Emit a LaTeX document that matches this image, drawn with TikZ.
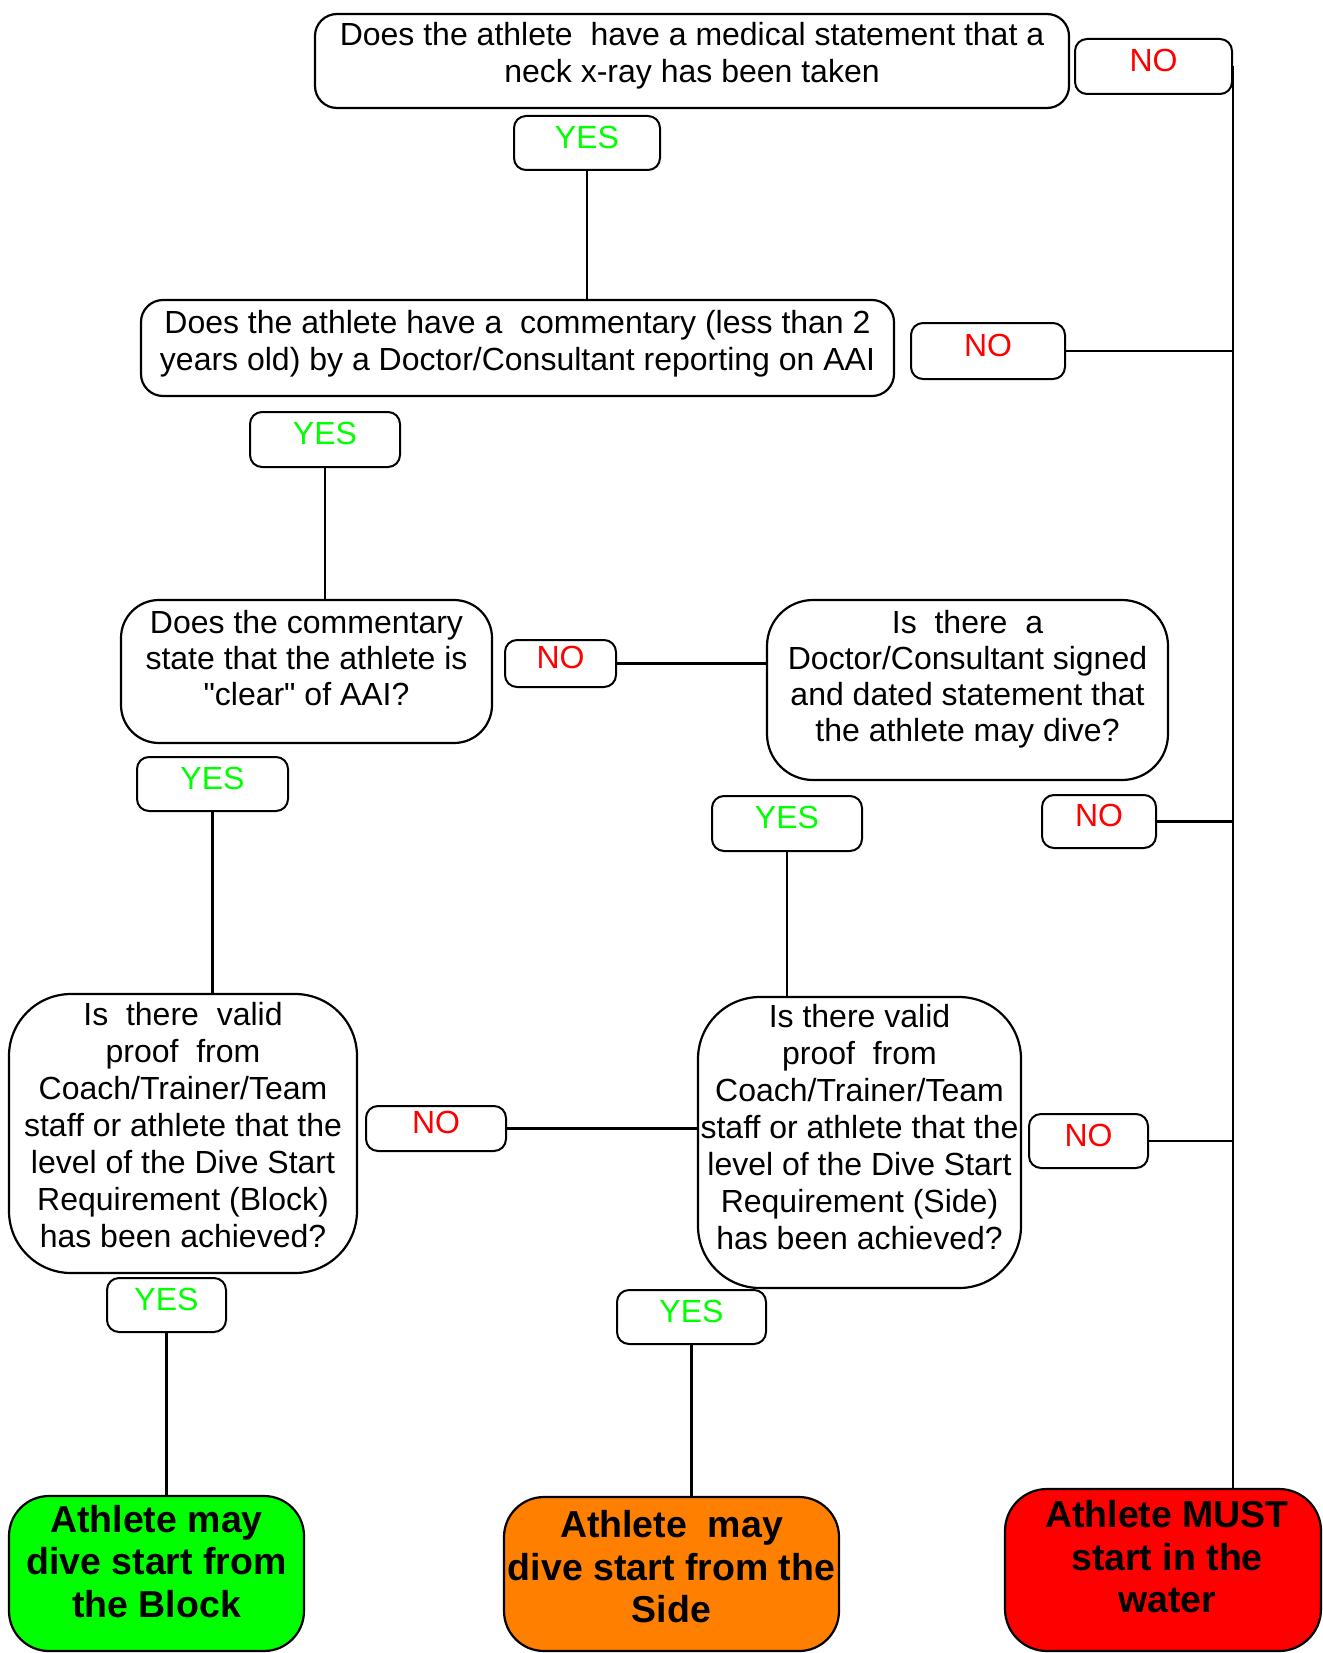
\documentclass[tikz,border=0pt]{standalone}
\usepackage{fontspec}
\setmainfont{Liberation Sans}
\newfontfamily\plainq{Liberation Sans}[Ligatures=TeXOff]
\definecolor{yesgreen}{RGB}{0,255,0}
\definecolor{nored}{RGB}{255,0,0}
\definecolor{fingreen}{RGB}{0,255,0}
\definecolor{finorange}{RGB}{255,128,0}
\definecolor{finred}{RGB}{255,0,0}
\newcommand\qfont{\fontsize{32}{37}\selectfont}
\newcommand\qfontb{\fontsize{32}{36}\selectfont}
\newcommand\ffont{\fontsize{37.5}{42.5}\selectfont\bfseries}
\newcommand\tx[1]{\begin{tabular}{@{}c@{}}#1\end{tabular}}
\newcommand\sq{{\plainq"}}
\begin{document}
\begin{tikzpicture}[x=1pt,y=-1pt,line join=round,
  qbox/.style={draw,line width=2.2pt,rectangle,inner sep=0pt},
  fbox/.style={draw,line width=2.2pt,rectangle,inner sep=0pt},
  lab/.style={draw,line width=2pt,rectangle,rounded corners=12pt,inner sep=0pt,
    font=\qfont,text height=18.6pt,text depth=8pt},
  yeslab/.style={lab,text=yesgreen},
  nolab/.style={lab,text=nored},
  txt/.style={inner sep=0pt,font=\qfont},
  txtb/.style={inner sep=0pt,font=\qfontb},
  ftxt/.style={inner sep=0pt,font=\ffont},
  conn/.style={line width=2.2pt}]
\useasboundingbox (0,0) rectangle (1322,1653);

% question boxes
\node[qbox,rounded corners=22pt,minimum width=754pt,minimum height=94pt] (b1) at (692,61) {};
\node[qbox,rounded corners=22pt,minimum width=753pt,minimum height=96pt] (b2) at (517.5,348) {};
\node[qbox,rounded corners=38pt,minimum width=371pt,minimum height=143pt] (b3) at (306.5,671.5) {};
\node[qbox,rounded corners=46pt,minimum width=401pt,minimum height=180pt] (b4) at (967.5,690) {};
\node[qbox,rounded corners=62pt,minimum width=348pt,minimum height=279pt] (b5) at (183,1133.5) {};
\node[qbox,rounded corners=62pt,minimum width=323pt,minimum height=291pt] (b6) at (859.5,1142.5) {};

% final boxes
\node[fbox,fill=fingreen,rounded corners=40pt,minimum width=295pt,minimum height=155pt] (fg) at (156.5,1573.5) {};
\node[fbox,fill=finorange,rounded corners=40pt,minimum width=335pt,minimum height=154pt] (fo) at (671.5,1574) {};
\node[fbox,fill=finred,rounded corners=42pt,minimum width=316pt,minimum height=162pt] (fr) at (1163,1570) {};

% texts
\node[txt] (t1) at ([yshift=4pt]b1.center) {\tx{Does the athlete\ \ have a medical statement that a\\neck x-ray has been taken}};
\node[txt] (t2) at ([yshift=3pt]b2.center) {\tx{Does the athlete have a\ \ commentary (less than 2\\years old) by a Doctor/Consultant reporting on AAI}};
\node[txtb] (t3) at ([yshift=9.5pt]b3.center) {\tx{Does the commentary\\state that the athlete is\\\sq clear\sq\ of AAI?}};
\node[txtb] (t4) at ([yshift=10pt]b4.center) {\tx{Is\ \ there\ \ a\\Doctor/Consultant signed\\and dated statement that\\the athlete may dive?}};
\node[txt] (t5) at ([yshift=4.5pt]b5.center) {\tx{Is\ \ there\ \ valid\\proof\ \ from\\Coach/Trainer/Team\\staff or athlete that the\\level of the Dive Start\\Requirement (Block)\\has been achieved?}};
\node[txt] (t6) at ([yshift=11pt]b6.center) {\tx{Is there valid\\proof\ \ from\\Coach/Trainer/Team\\staff or athlete that the\\level of the Dive Start\\Requirement (Side)\\has been achieved?}};
\node[ftxt] (tg) at ([yshift=7.5pt]fg.center) {\tx{Athlete may\\dive start from\\the Block}};
\node[ftxt] (to) at ([yshift=2.5pt]fo.center) {\tx{Athlete\ \ may\\dive start from the\\Side}};
\node[ftxt] (tr) at ([shift={(4pt,8.5pt)}]fr.center) {\tx{Athlete MUST\\start in the\\water}};

% labels
\node[nolab,minimum width=157pt,minimum height=55pt] (no1) at (1153.5,66.5) {NO};
\node[yeslab,minimum width=146pt,minimum height=54pt] (yes1) at (587,143) {YES};
\node[nolab,minimum width=154pt,minimum height=56pt] (no2) at (988,351) {NO};
\node[yeslab,minimum width=150pt,minimum height=55pt] (yes2) at (325,439.5) {YES};
\node[nolab,minimum width=111pt,minimum height=47pt] (no3) at (560.5,663.5) {NO};
\node[yeslab,minimum width=151pt,minimum height=54pt] (yes3) at (212.5,784) {YES};
\node[yeslab,minimum width=150pt,minimum height=55pt] (yes4) at (787,823.5) {YES};
\node[nolab,minimum width=114pt,minimum height=53pt] (no4) at (1099,821.5) {NO};
\node[nolab,minimum width=140pt,minimum height=45pt] (no5) at (436,1128.5) {NO};
\node[nolab,minimum width=119pt,minimum height=54pt] (no6) at (1088.5,1141) {NO};
\node[yeslab,minimum width=119pt,minimum height=54pt] (yes5) at (166.5,1305) {YES};
\node[yeslab,minimum width=149pt,minimum height=54pt] (yes6) at (691.5,1317) {YES};

% connectors
\coordinate (rail) at (no1.east);
\draw[conn] (no1.east) -- (no1.east |- fr.north);
\draw[conn] (no2.east) -- (no2.east -| rail);
\draw[conn] (no4.east) -- (no4.east -| rail);
\draw[conn] (no6.east) -- (no6.east -| rail);
\draw[conn] (yes1.south) -- (yes1.south |- b2.north);
\draw[conn] (yes2.south) -- (yes2.south |- b3.north);
\draw[conn] (yes3.south) -- (yes3.south |- b5.north);
\draw[conn] (yes4.south) -- (yes4.south |- b6.north);
\draw[conn] (yes5.south) -- (yes5.south |- fg.north);
\draw[conn] (yes6.south) -- (yes6.south |- fo.north);
\draw[conn] (no3.east) -- (no3.east -| b4.west);
\draw[conn] (no5.east) -- (no5.east -| b6.west);
\end{tikzpicture}
\end{document}
